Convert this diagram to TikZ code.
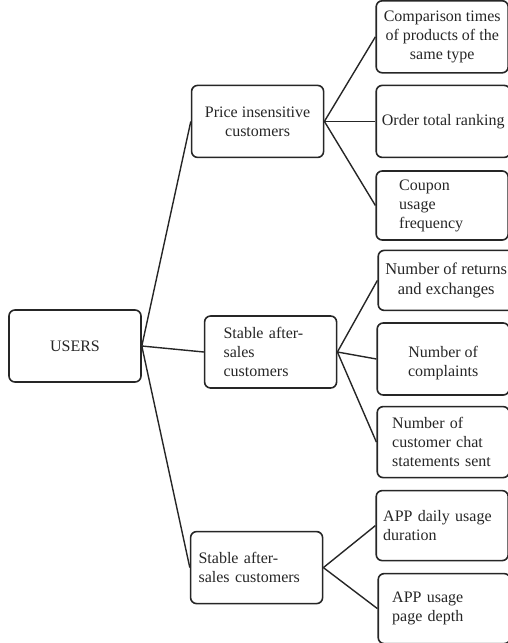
\documentclass[tikz,border=0pt]{standalone}
\usepackage{fontspec}
\setmainfont{Liberation Serif}
\usepackage{xcolor}
\usepackage{tikz}
\usetikzlibrary{positioning}

\definecolor{edgegray}{HTML}{262626}

\begin{document}
\begin{tikzpicture}[x=1pt, y=1pt, font=\fontsize{16}{19}\selectfont,
    box/.style={rectangle, draw=edgegray, line width=1.6pt, rounded corners=6pt, minimum width=132pt, minimum height=72pt, inner sep=3pt, text=black!85, align=center},
    link/.style={draw=edgegray, line width=1.4pt}]

    \useasboundingbox (0,0) rectangle (508,-643);

    % Root
    \node[box] (users) at (75,-346) {USERS};

    % Customer groups
    \node[box, above right=151pt and 49pt of users] (price) {Price insensitive\\customers};
    \node[box, right=62pt of users, yshift=-6pt, text width=94pt, align=left] (stable) {Stable after-\\sales\\customers};
    \node[box, below right=148pt and 48pt of users, text width=116pt, align=left] (stableapp) {Stable after-\\sales customers};

    % Price insensitive - indicators
    \node[box, above right=11pt and 51pt of price] (compare) {Comparison times\\of products of the\\same type};
    \node[box, right=51pt of price, minimum width=134pt] (ranking) {Order total ranking};
    \node[box, below right=12pt and 51pt of price, minimum height=69pt, text width=86pt, align=left] (coupon) {Coupon\\usage\\frequency};

    % Stable after-sales - indicators
    \node[box, above right=4pt and 40pt of stable, minimum width=136pt, minimum height=60pt, font=\fontsize{16.5}{19.5}\selectfont] (returns) {Number of returns\\and exchanges};
    \node[box, right=39pt of stable, yshift=-7pt] (complaints) {\mbox{}\\Number of\\complaints};
    \node[box, below right=17pt and 39pt of stable, minimum height=71pt, text width=102pt, align=left] (chat) {Number of\\customer chat\\statements sent};

    % App usage - indicators
    \node[box, right=52pt of stableapp, yshift=42pt, minimum height=70pt, text width=118pt, align=left] (daily) {APP daily usage\\duration};
    \node[box, right=54pt of stableapp, yshift=-41pt, minimum height=70pt, text width=104pt, align=left] (depth) {APP usage\\page depth};

    % Links
    \draw[link] (users.east) -- (price.west);
    \draw[link] (users.east) -- (stable.west);
    \draw[link] (users.east) -- (stableapp.west);
    \draw[link] (price.east) -- (compare.west);
    \draw[link] (price.east) -- (ranking.west);
    \draw[link] (price.east) -- (coupon.west);
    \draw[link] (stable.east) -- (returns.west);
    \draw[link] (stable.east) -- (complaints.west);
    \draw[link] (stable.east) -- (chat.west);
    \draw[link] (stableapp.east) -- (daily.west);
    \draw[link] (stableapp.east) -- (depth.west);

\end{tikzpicture}
\end{document}
